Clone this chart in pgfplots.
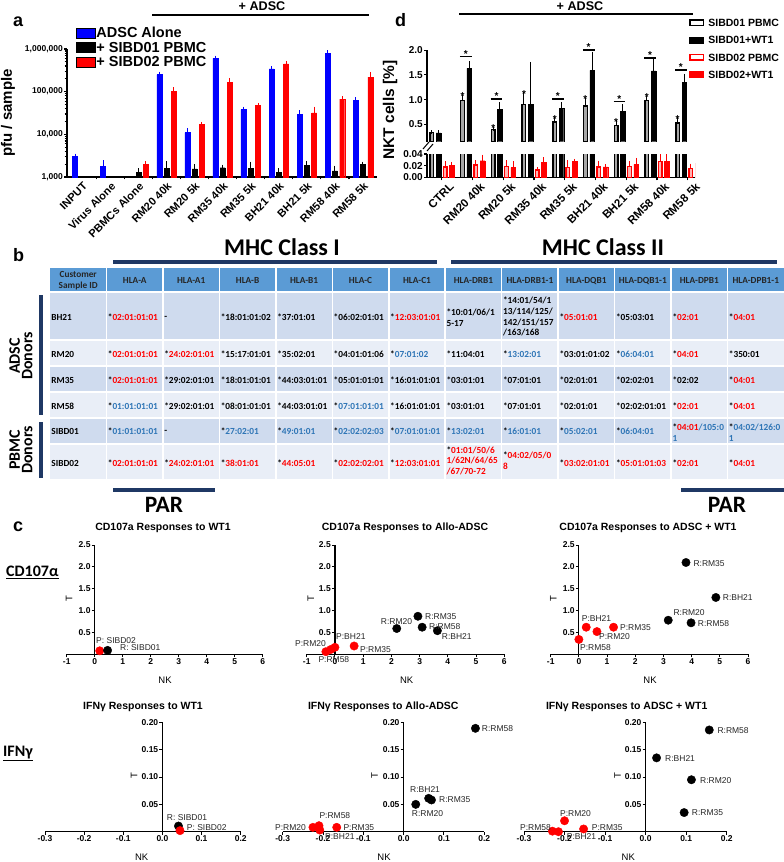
\documentclass[border=0pt]{standalone}
\usepackage{pgfplots}
\pgfplotsset{compat=1.18}
\usepackage{fontspec}
\setmainfont{Liberation Sans}
\newfontfamily\calib{Carlito}
\definecolor{hdr}{HTML}{5B9BD5}
\definecolor{rowA}{HTML}{CFDBEE}
\definecolor{rowB}{HTML}{E9EEF7}
\definecolor{navy}{HTML}{1F3864}
\definecolor{tred}{HTML}{FF0000}
\definecolor{tblue}{HTML}{2E75B6}
\newcommand{\fs}[2]{\fontsize{#1}{#2}\selectfont}
\newcommand{\R}[1]{\textcolor{tred}{#1}}
\newcommand{\B}[1]{\textcolor{tblue}{#1}}
\newcommand{\sig}[2]{\node[font=\bfseries\fs{10}{10}, anchor=base, inner sep=0pt] at (axis cs:#1,#2) {*};}
\newcommand{\brk}[3]{\draw[line width=1.5pt] (axis cs:#1,#3) -- (axis cs:#2,#3);}
\pgfplotsset{every axis/.append style={/pgf/number format/assume math mode=true}}
\pgfplotsset{
  scat/.style={scale only axis, anchor=south west, axis lines*=middle,
    axis line style={line width=1.2pt}, tick style={black, line width=1pt},
    major tick length=3pt, tick align=outside,
    hide obscured x ticks=false, hide obscured y ticks=false,
    tick label style={font=\bfseries\fs{8.5}{9}, inner sep=1pt}, clip=false},
  scattop/.style={scat, xmin=-1, xmax=6, ymin=0, ymax=2.5, height=109.3pt,
    xtick={-1,0,...,6}, ytick={0.5,1.0,...,2.5},
    yticklabel style={/pgf/number format/fixed, /pgf/number format/fixed zerofill, /pgf/number format/precision=1}},
  scatbot/.style={scat, xmin=-0.3, xmax=0.2, ymin=0, ymax=0.2, height=109.4pt,
    xtick={-0.3,-0.2,-0.1,0,0.1,0.2}, ytick={0.05,0.1,0.15,0.2},
    scaled ticks=false,
    xticklabel style={/pgf/number format/fixed, /pgf/number format/fixed zerofill, /pgf/number format/precision=1},
    yticklabel style={/pgf/number format/fixed, /pgf/number format/fixed zerofill, /pgf/number format/precision=2}},
  blackpt/.style={only marks, mark=*, mark size=4.2pt, black},
  redpt/.style={only marks, mark=*, mark size=4.2pt, red, mark options={fill=red, draw=red}},
  eb/.style={error bars/.cd, y dir=plus, y explicit, error bar style={#1, line width=1pt},
    error mark options={#1, mark size=2pt, line width=1pt}},
}
\begin{document}
\begin{tikzpicture}
\useasboundingbox (0pt,0pt) rectangle (784pt,-862pt);

% ================= Panel a =================
\begin{axis}[
  at={(67pt,-177pt)}, anchor=south west,
  scale only axis, width=310pt, height=128pt,
  xmin=-0.55, xmax=10.5,
  ymode=log, ymin=1000, ymax=1000000, log origin y=infty,
  axis lines*=left, axis line style={line width=1.4pt},
  tick style={black, line width=1.2pt}, tick align=outside, major tick length=3pt, minor tick length=2.5pt,
  ytick={1000,10000,100000,1000000},
  yticklabels={{1,000},{10,000},{100,000},{1,000,000}},
  yticklabel style={font=\bfseries\fs{8.5}{10}, inner sep=1pt},
  xtick={0,...,10}, major x tick style={draw=none},
  minor xtick={0.5,1.5,...,9.5},
  xticklabels={INPUT,Virus Alone,PBMCs Alone,RM20 40k,RM20 5k,RM35 40k,RM35 5k,BH21 40k,BH21 5k,RM58 40k,RM58 5k},
  xticklabel style={font=\bfseries\fs{11}{12}, rotate=45, anchor=north east, inner sep=1pt},
  ylabel={pfu / sample},
  ylabel style={font=\bfseries\fs{15}{18}, at={(axis description cs:-0.19,0.5)}, anchor=center},
  legend style={at={(axis description cs:0.029,1.172)}, anchor=north west, draw=none, fill=none,
    inner sep=0pt, outer sep=0pt, row sep=2.5pt, column sep=0pt, font=\bfseries\fs{14.5}{16},
    nodes={inner sep=1pt, text height=10pt, text depth=0pt}},
  legend cell align=left,
  legend image code/.code={\fill[#1] (0pt,-5pt) rectangle (19pt,5pt);},
]
\addlegendimage{fill=blue}\addlegendentry{ADSC Alone}
\addlegendimage{fill=black}\addlegendentry{+ SIBD01 PBMC}
\addlegendimage{fill=red}\addlegendentry{+ SIBD02 PBMC}
\addplot[forget plot, ybar, bar width=5pt, bar shift=0pt, fill=blue, draw=blue, eb=blue]
  table[x=x, y=y, y error=e] {
x y e
-0.26 3000 150
0.74 1800 400
2.74 250000 15000
3.74 11000 1500
4.74 600000 30000
5.74 38000 2000
6.74 340000 15000
7.74 29000 4000
8.74 800000 30000
9.74 63000 3000
};
\addplot[forget plot, ybar, bar width=5pt, bar shift=0pt, fill=black, draw=black, eb=black]
  table[x=x, y=y, y error=e] {
x y e
2 1300 150
3 1600 500
4 1550 250
5 1650 100
6 1600 450
7 1300 150
8 1900 250
9 1400 250
10 2000 50
};
\addplot[forget plot, ybar, bar width=5pt, bar shift=0pt, fill=red, draw=red, eb=red]
  table[x=x, y=y, y error=e] {
x y e
2.26 2000 100
3.26 100000 15000
4.26 17000 500
5.26 165000 25000
6.26 47000 2000
7.26 450000 20000
8.26 32000 8000
9.26 67000 3000
10.26 220000 40000
};
\end{axis}

% ================= Panel d (upper) =================
\begin{axis}[
  at={(427pt,-141.7pt)}, anchor=south west,
  scale only axis, width=268pt, height=91.6pt,
  xmin=-0.48, xmax=8.24, ymin=0.15, ymax=2.0,
  axis x line=none, axis y line*=left, axis line style={line width=1.4pt},
  tick style={black, line width=1.2pt}, tick align=outside, major tick length=3pt,
  ytick={0.5,1.0,1.5,2.0}, scaled y ticks=false,
  yticklabel style={font=\bfseries\fs{10}{11}, inner sep=1pt,
    /pgf/number format/fixed, /pgf/number format/fixed zerofill, /pgf/number format/precision=1},
  clip mode=individual,
  legend style={at={(axis description cs:0.978,1.3515)}, anchor=north west, draw=none, fill=none,
    inner sep=0pt, row sep=7.6pt, column sep=3pt, font=\bfseries\fs{10.5}{12},
    nodes={inner sep=1pt, text height=7.6pt, text depth=0pt}},
  legend cell align=left,
  legend image code/.code={\draw[#1] (0.6pt,-2.8pt) rectangle (14.4pt,2.8pt);},
]
\addlegendimage{draw=black, fill=white, line width=1.3pt}\addlegendentry{SIBD01 PBMC}
\addlegendimage{draw=black, fill=black, line width=1.3pt}\addlegendentry{SIBD01+WT1}
\addlegendimage{draw=red, fill=white, line width=1.3pt}\addlegendentry{SIBD02 PBMC}
\addlegendimage{draw=red, fill=red, line width=1.3pt}\addlegendentry{SIBD02+WT1}
\addplot[forget plot, ybar, bar width=3.6pt, bar shift=0pt, fill=black!35, draw=black, line width=1.4pt, eb=black]
  table[x=x, y=y, y error=e] {
x y e
-0.325 0.33 0.01
0.675 0.98 0.08
1.675 0.40 0.01
2.675 0.90 0.21
3.675 0.55 0.05
4.675 0.87 0.12
5.675 0.48 0.06
6.675 0.98 0.05
7.675 0.53 0.07
};
\addplot[forget plot, ybar, bar width=4.6pt, bar shift=0pt, fill=black, draw=black, eb=black]
  table[x=x, y=y, y error=e] {
x y e
-0.107 0.33 0.01
0.893 1.63 0.10
1.893 0.80 0.11
2.893 0.91 0.81
3.893 0.82 0.09
4.893 1.59 0.34
5.893 0.77 0.10
6.893 1.58 0.20
7.893 1.35 0.13
};
% significance annotations
\sig{0.675}{1.00}\sig{1.675}{0.355}\sig{2.675}{1.05}\sig{3.675}{0.545}
\sig{4.675}{0.935}\sig{5.675}{0.485}\sig{6.675}{0.985}\sig{7.675}{0.545}
\brk{0.59}{0.97}{1.87}\sig{0.78}{1.854}
\brk{1.59}{1.97}{1.01}\sig{1.78}{0.994}
\brk{3.59}{3.97}{1.01}\sig{3.78}{0.994}
\brk{4.59}{4.97}{2.0}\sig{4.78}{1.984}
\brk{5.59}{5.97}{0.96}\sig{5.78}{0.944}
\brk{6.59}{6.97}{1.84}\sig{6.78}{1.824}
\brk{7.59}{7.97}{1.60}\sig{7.78}{1.584}
\end{axis}

% ================= Panel d (lower) =================
\begin{axis}[
  at={(427pt,-177.3pt)}, anchor=south west,
  scale only axis, width=268pt, height=23.3pt,
  xmin=-0.48, xmax=8.24, ymin=0, ymax=0.04,
  axis lines*=left, axis line style={line width=1.4pt},
  tick style={black, line width=1.2pt}, tick align=outside, major tick length=3pt,
  ytick={0,0.02,0.04}, scaled y ticks=false,
  yticklabel style={font=\bfseries\fs{10}{11}, inner sep=1pt,
    /pgf/number format/fixed, /pgf/number format/fixed zerofill, /pgf/number format/precision=2},
  xtick={0,...,8},
  xticklabels={CTRL,RM20 40k,RM20 5k,RM35 40k,RM35 5k,BH21 40k,BH21 5k,RM58 40k,RM58 5k},
  xticklabel style={font=\bfseries\fs{11.5}{12}, rotate=45, anchor=north east, inner sep=1pt, xshift=5pt, yshift=-5pt},
  clip mode=individual,
]
\addplot[ybar, bar width=3.6pt, bar shift=0pt, fill=black!35, draw=black, line width=1.4pt]
  coordinates {(-0.325,0.33) (0.675,0.98) (1.675,0.40) (2.675,0.90) (3.675,0.55) (4.675,0.87) (5.675,0.48) (6.675,0.98) (7.675,0.53)};
\addplot[ybar, bar width=4.6pt, bar shift=0pt, fill=black, draw=black]
  coordinates {(-0.107,0.33) (0.893,1.63) (1.893,0.80) (2.893,0.91) (3.893,0.82) (4.893,1.59) (5.893,0.77) (6.893,1.58) (7.893,1.35)};
\addplot[ybar, bar width=3.6pt, bar shift=0pt, fill=red!30, draw=red, line width=1.4pt, eb=red]
  table[x=x, y=y, y error=e] {
x y e
0.107 0.018 0.006
1.107 0.021 0.005
2.107 0.019 0.007
3.107 0.0126 0.0015
4.107 0.017 0.009
5.107 0.018 0.007
6.107 0.019 0.005
7.107 0.027 0.011
8.107 0.0154 0.0046
};
\addplot[ybar, bar width=4.6pt, bar shift=0pt, fill=red, draw=red, eb=red]
  table[x=x, y=y, y error=e] {
x y e
0.325 0.021 0.002
1.325 0.0285 0.007
2.325 0.0166 0.0074
3.325 0.0257 0.0053
4.325 0.0274 0.0006
5.325 0.018 0.001
6.325 0.0223 0.0077
7.325 0.027 0.010
8.325 0.025 0.015
};
\end{axis}

% ================= Panel c scatter plots =================
\begin{axis}[scattop, at={(66.7pt,-654.3pt)}, width=196pt]
\addplot[redpt] coordinates {(0.18,0.08)};
\addplot[blackpt] coordinates {(0.46,0.09)};
\end{axis}
\begin{axis}[scattop, at={(306.7pt,-654.3pt)}, width=197.6pt]
\addplot[blackpt] coordinates {(2.19,0.59) (2.94,0.87) (3.09,0.62) (3.63,0.54)};
\addplot[redpt] coordinates {(-0.32,0.06) (-0.15,0.11) (0.0,0.16) (0.68,0.19)};
\end{axis}
\begin{axis}[scattop, at={(550.7pt,-654.3pt)}, width=197.3pt]
\addplot[blackpt] coordinates {(3.8,2.1) (4.86,1.30) (3.17,0.78) (3.98,0.72)};
\addplot[redpt] coordinates {(0.26,0.62) (0.64,0.52) (1.23,0.62) (0.0,0.34)};
\end{axis}
\begin{axis}[scatbot, at={(45pt,-831.7pt)}, width=195.7pt]
\addplot[blackpt] coordinates {(0.041,0.0104)};
\addplot[redpt] coordinates {(0.045,0.002)};
\end{axis}
\begin{axis}[scatbot, at={(282.7pt,-831.7pt)}, width=201.6pt]
\addplot[blackpt] coordinates {(0.178,0.189) (0.062,0.061) (0.069,0.058) (0.030,0.050)};
\addplot[redpt] coordinates {(-0.225,0.008) (-0.21,0.011) (-0.208,0.003) (-0.166,0.008)};
\end{axis}
\begin{axis}[scatbot, at={(524pt,-831.7pt)}, width=202.7pt]
\addplot[blackpt] coordinates {(0.157,0.186) (0.027,0.135) (0.113,0.095) (0.095,0.035)};
\addplot[redpt] coordinates {(-0.2,0.020) (-0.23,0.001) (-0.215,0.0) (-0.153,0.005)};
\end{axis}

% ================= Annotations, table, texts =================
\begin{scope}[x=1pt, y=-1pt]
% panel letters
\node[font=\bfseries\fs{18}{18}, anchor=base west, inner sep=0pt] at (13,26.7) {a};
\node[font=\bfseries\fs{18}{18}, anchor=base west, inner sep=0pt] at (395,26.7) {d};
\node[font=\bfseries\fs{18}{18}, anchor=base west, inner sep=0pt] at (13,261.7) {b};
\node[font=\bfseries\fs{18}{18}, anchor=base west, inner sep=0pt] at (13,531.7) {c};
% + ADSC
\node[font=\bfseries\fs{12.6}{13}, anchor=base, inner sep=0pt] at (262,10) {+ ADSC};
\draw[line width=2pt] (152,15) -- (369,15);
\node[font=\bfseries\fs{12.6}{13}, anchor=base, inner sep=0pt] at (580,10) {+ ADSC};
\draw[line width=2pt] (459,14.3) -- (693,14.3);
% d y label and axis break
\node[font=\bfseries\fs{15.5}{17}, rotate=90, inner sep=0pt] at (390,110) {NKT cells [\%]};
\draw[line width=1pt] (423,149) -- (429,142);
\draw[line width=1pt] (427,151) -- (433,144);

% ---------- table ----------
\fill[hdr] (50,268) rectangle (784,292);
\fill[rowA] (50,292) rectangle (784,340);
\fill[rowB] (50,340) rectangle (784,366);
\fill[rowA] (50,366) rectangle (784,392);
\fill[rowB] (50,392) rectangle (784,418);
\fill[rowA] (50,418) rectangle (784,444);
\fill[rowB] (50,444) rectangle (784,479);
\foreach \k in {1,...,12}{\draw[white, line width=1.5pt] ({50+56.46*\k},268) -- ({50+56.46*\k},479);}
\draw[white, line width=2.5pt] (50,292) -- (784,292);
\foreach \yy in {340,366,392,418,444}{\draw[white, line width=1.5pt] (50,\yy) -- (784,\yy);}
\begin{scope}[every node/.style={font=\calib\bfseries\fs{9.3}{10.6}, inner sep=0pt}]
% header
\foreach \k/\t in {1/HLA-A,2/HLA-A1,3/HLA-B,4/HLA-B1,5/HLA-C,6/HLA-C1,7/HLA-DRB1,8/HLA-DRB1-1,9/HLA-DQB1,10/HLA-DQB1-1,11/HLA-DPB1,12/HLA-DPB1-1}{
  \node[text=black!85] at ({50+56.46*\k+28.23},280.7) {\t};}
\node[align=center, text=black!85] at (78.2,280.7) {Customer\\Sample ID};
\tikzset{tc/.style={anchor=west, align=left}}
% BH21
\node[tc] at (51.2,317.7) {BH21};
\node[tc] at (107.7,317.7) {*\R{02:01:01:01}};
\node[tc] at (164.1,317.7) {-};
\node[tc] at (220.6,317.7) {*18:01:01:02};
\node[tc] at (277.1,317.7) {*37:01:01};
\node[tc] at (333.5,317.7) {*06:02:01:01};
\node[tc] at (390.0,317.7) {*\R{12:03:01:01}};
\node[tc] at (446.4,317.5) {*10:01/06/1\\5-17};
\node[tc] at (502.9,316.6) {*14:01/54/1\\13/114/125/\\142/151/157\\/163/168};
\node[tc] at (559.4,317.7) {*\R{05:01:01}};
\node[tc] at (615.8,317.7) {*05:03:01};
\node[tc] at (672.3,317.7) {*\R{02:01}};
\node[tc] at (728.7,317.7) {*\R{04:01}};
% RM20
\node[tc] at (51.2,354.3) {RM20};
\node[tc] at (107.7,354.3) {*\R{02:01:01:01}};
\node[tc] at (164.1,354.3) {*\R{24:02:01:01}};
\node[tc] at (220.6,354.3) {*15:17:01:01};
\node[tc] at (277.1,354.3) {*35:02:01};
\node[tc] at (333.5,354.3) {*04:01:01:06};
\node[tc] at (390.0,354.3) {*\B{07:01:02}};
\node[tc] at (446.4,354.3) {*11:04:01};
\node[tc] at (502.9,354.3) {*\B{13:02:01}};
\node[tc] at (559.4,354.3) {*03:01:01:02};
\node[tc] at (615.8,354.3) {*\B{06:04:01}};
\node[tc] at (672.3,354.3) {*\R{04:01}};
\node[tc] at (728.7,354.3) {*350:01};
% RM35
\node[tc] at (51.2,380) {RM35};
\node[tc] at (107.7,380) {*\R{02:01:01:01}};
\node[tc] at (164.1,380) {*29:02:01:01};
\node[tc] at (220.6,380) {*18:01:01:01};
\node[tc] at (277.1,380) {*44:03:01:01};
\node[tc] at (333.5,380) {*05:01:01:01};
\node[tc] at (390.0,380) {*16:01:01:01};
\node[tc] at (446.4,380) {*03:01:01};
\node[tc] at (502.9,380) {*07:01:01};
\node[tc] at (559.4,380) {*02:01:01};
\node[tc] at (615.8,380) {*02:02:01};
\node[tc] at (672.3,380) {*02:02};
\node[tc] at (728.7,380) {*\R{04:01}};
% RM58
\node[tc] at (51.2,406) {RM58};
\node[tc] at (107.7,406) {*\B{01:01:01:01}};
\node[tc] at (164.1,406) {*29:02:01:01};
\node[tc] at (220.6,406) {*08:01:01:01};
\node[tc] at (277.1,406) {*44:03:01:01};
\node[tc] at (333.5,406) {*\B{07:01:01:01}};
\node[tc] at (390.0,406) {*16:01:01:01};
\node[tc] at (446.4,406) {*03:01:01};
\node[tc] at (502.9,406) {*07:01:01};
\node[tc] at (559.4,406) {*02:01:01};
\node[tc] at (615.8,406) {*02:02:01:01};
\node[tc] at (672.3,406) {*\R{02:01}};
\node[tc] at (728.7,406) {*\R{04:01}};
% SIBD01
\node[tc] at (51.2,431.7) {SIBD01};
\node[tc] at (107.7,431.7) {*\B{01:01:01:01}};
\node[tc] at (164.1,431.7) {-};
\node[tc] at (220.6,431.7) {*\B{27:02:01}};
\node[tc] at (277.1,431.7) {*\B{49:01:01}};
\node[tc] at (333.5,431.7) {*\B{02:02:02:03}};
\node[tc] at (390.0,431.7) {*\B{07:01:01:01}};
\node[tc] at (446.4,431.7) {*\B{13:02:01}};
\node[tc] at (502.9,431.7) {*\B{16:01:01}};
\node[tc] at (559.4,431.7) {*\B{05:02:01}};
\node[tc] at (615.8,431.7) {*\B{06:04:01}};
\node[tc] at (672.3,432.5) {*\R{04:01}\B{/105:0}\\\B{1}};
\node[tc] at (728.7,432.5) {*\B{04:02/126:0}\\\B{1}};
% SIBD02
\node[tc] at (51.2,463.3) {SIBD02};
\node[tc] at (107.7,463.3) {*\R{02:01:01:01}};
\node[tc] at (164.1,463.3) {*\R{24:02:01:01}};
\node[tc] at (220.6,463.3) {*\R{38:01:01}};
\node[tc] at (277.1,463.3) {*\R{44:05:01}};
\node[tc] at (333.5,463.3) {*\R{02:02:02:01}};
\node[tc] at (390.0,463.3) {*\R{12:03:01:01}};
\node[tc] at (446.4,460.5) {*\R{01:01/50/6}\\\R{1/62N/64/65}\\\R{/67/70-72}};
\node[tc] at (502.9,460.5) {*\R{04:02/05/0}\\\R{8}};
\node[tc] at (559.4,463.3) {*\R{03:02:01:01}};
\node[tc] at (615.8,463.3) {*\R{05:01:01:03}};
\node[tc] at (672.3,463.3) {*\R{02:01}};
\node[tc] at (728.7,463.3) {*\R{04:01}};
\end{scope}
% MHC headings and bars
\node[font=\calib\bfseries\fs{24}{24}, anchor=base, inner sep=0pt] at (282,255) {MHC Class I};
\node[font=\calib\bfseries\fs{24}{24}, anchor=base, inner sep=0pt] at (603,255) {MHC Class II};
\draw[navy, line width=4pt] (113,261.7) -- (437,261.7);
\draw[navy, line width=4pt] (451,261.7) -- (777,261.7);
\draw[navy, line width=4pt] (113,490) -- (215,490);
\draw[navy, line width=4pt] (681,490) -- (784,490);
\node[font=\calib\bfseries\fs{23.5}{24}, anchor=base, inner sep=0pt] at (164,512.7) {PAR};
\node[font=\calib\bfseries\fs{23.5}{24}, anchor=base, inner sep=0pt] at (727,512.7) {PAR};
% donors
\draw[navy, line width=4pt] (41,295) -- (41,415);
\draw[navy, line width=4pt] (41,422) -- (41,478);
\node[font=\calib\bfseries\fs{16}{12.5}, rotate=90, align=center, inner sep=0pt] at (21,356) {ADSC\\Donors};
\node[font=\calib\bfseries\fs{16}{12.5}, rotate=90, align=center, inner sep=0pt] at (21,450) {PBMC\\Donors};

% ---------- panel c texts ----------
\node[font=\calib\bfseries\fs{16}{16}, anchor=base west, inner sep=0pt] at (6,576.7) {\underline{CD107α}};
\node[font=\calib\bfseries\fs{16}{16}, anchor=base west, inner sep=0pt] at (3,756.7) {\underline{IFNγ}};
\begin{scope}[every node/.style={font=\bfseries\fs{10.5}{12}, anchor=base, inner sep=0pt}]
\node at (163,530) {CD107a Responses to WT1};
\node at (405,530) {CD107a Responses to Allo-ADSC};
\node at (648,530) {CD107a Responses to ADSC + WT1};
\node at (143,709) {IFNγ Responses to WT1};
\node at (383.3,709) {IFNγ Responses to Allo-ADSC};
\node at (626.7,709) {IFNγ Responses to ADSC + WT1};
\end{scope}
\begin{scope}[every node/.style={font=\fs{9.5}{10}, inner sep=0pt}]
\node at (165,680) {NK};
\node at (406.7,680) {NK};
\node at (650,680) {NK};
\node at (141.7,857.3) {NK};
\node at (384,857.3) {NK};
\node at (628.3,857.3) {NK};
\node[rotate=90] at (69.2,598.8) {T};
\node[rotate=90] at (310.8,598.8) {T};
\node[rotate=90] at (553.3,598.8) {T};
\node[rotate=90] at (134,776) {T};
\node[rotate=90] at (374.5,776) {T};
\node[rotate=90] at (617.5,776) {T};
\end{scope}
\begin{scope}[every node/.style={font=\fs{8.5}{9}, inner sep=0pt, anchor=base west, text=black!85}]
% plot 1
\node at (96,643) {P: SIBD02};
\node at (120,650) {R: SIBD01};
% plot 2
\node at (380.7,624) {R:RM20};
\node at (425,619) {R:RM35};
\node at (429,629.3) {R:RM58};
\node at (441.7,639.3) {R:BH21};
\node at (295,646.7) {P:RM20};
\node at (336,639) {P:BH21};
\node at (318.3,662.3) {P:RM58};
\node at (360,652.3) {P:RM35};
% plot 3
\node at (693.3,566) {R:RM35};
\node at (722.7,600.7) {R:BH21};
\node at (673.3,615.7) {R:RM20};
\node at (697.7,626) {R:RM58};
\node at (581.7,621.7) {P:BH21};
\node at (620,630.7) {P:RM35};
\node at (599,639.3) {P:RM20};
\node at (580,650) {P:RM58};
% plot 4
\node at (166.7,820.7) {R: SIBD01};
\node at (186.7,830) {P: SIBD02};
% plot 5
\node at (481.7,731.7) {R:RM58};
\node at (410,792.7) {R:BH21};
\node at (439,802.7) {R:RM35};
\node at (411.7,816) {R:RM20};
\node at (275,830.3) {P:RM20};
\node at (319.3,818.7) {P:RM58};
\node at (325,839.3) {P:BH21};
\node at (343.3,830.3) {P:RM35};
% plot 6
\node at (717.3,733.3) {R:RM58};
\node at (665,761) {R:BH21};
\node at (700,783) {R:RM20};
\node at (691.7,815.3) {R:RM35};
\node at (560,816) {P:RM20};
\node[anchor=base east] at (551,830) {P:RM58};
\node at (566.7,839.3) {P:BH21};
\node at (591.7,830) {P:RM35};
\end{scope}
\end{scope}
\end{tikzpicture}
\end{document}
